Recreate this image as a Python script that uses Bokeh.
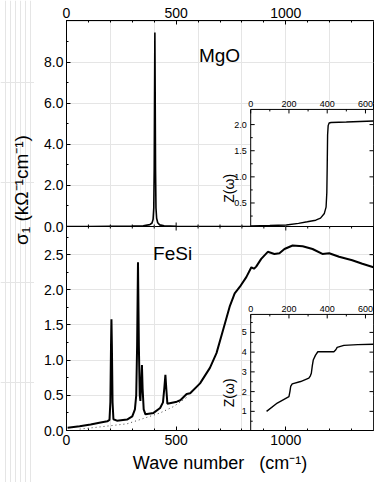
import math
from bokeh.plotting import figure
from bokeh.layouts import row, column
from bokeh.models import Range1d, LinearAxis, FixedTicker, NumeralTickFormatter
from bokeh.core.properties import value
from bokeh.embed import file_html
from bokeh.resources import INLINE

FONT = "Liberation Sans"

# ---------------- data ----------------
# MgO optical conductivity (kOhm^-1 cm^-1) vs wave number (cm^-1)
mgo_w = [0, 100, 200, 300, 350, 380, 390, 395, 398, 400, 401.5, 403, 404.5, 406, 408, 411, 416, 425, 445, 500, 700, 1000, 1400]
mgo_s = [0.0, 0.0, 0.01, 0.02, 0.04, 0.09, 0.17, 0.35, 0.9, 2.8, 6.3, 9.45, 6.3, 2.8, 0.9, 0.4, 0.18, 0.08, 0.03, 0.01, 0.0, 0.0, 0.0]

# MgO inset Z(omega)
mgo_z_w = [0, 100, 186, 250, 296, 340, 365, 385, 394, 398, 400, 402, 405, 410, 420, 500, 642]
mgo_z = [0.06, 0.07, 0.08, 0.11, 0.14, 0.17, 0.21, 0.30, 0.42, 0.70, 1.20, 1.80, 1.98, 2.03, 2.04, 2.05, 2.07]

# FeSi optical conductivity
fesi_w = [5, 60, 110, 150, 186, 196, 200, 203, 205, 207, 210, 214, 230, 276, 300, 312, 318, 322, 326, 330,
          334, 337, 341, 344, 347, 352, 360, 397, 427, 440, 446, 451, 455, 460, 503, 519, 548, 564, 609, 654,
          684, 714, 744, 767, 790, 820, 843, 855, 865, 888, 918, 948, 971, 994, 1031, 1077, 1122, 1167, 1198,
          1243, 1303, 1349, 1400]
fesi_s = [0.04, 0.06, 0.085, 0.11, 0.13, 0.15, 0.40, 1.20, 1.58, 1.20, 0.40, 0.16, 0.14, 0.155, 0.20, 0.30, 0.50, 1.20, 2.39, 1.20,
          0.50, 0.42, 0.70, 0.93, 0.60, 0.30, 0.23, 0.25, 0.32, 0.40, 0.60, 0.79, 0.60, 0.38, 0.41, 0.43, 0.52, 0.53, 0.67, 0.89,
          1.10, 1.43, 1.76, 1.95, 2.04, 2.18, 2.32, 2.30, 2.33, 2.44, 2.54, 2.51, 2.52, 2.58, 2.63, 2.62, 2.58, 2.51, 2.52,
          2.47, 2.42, 2.37, 2.32]

# FeSi background (dotted)
fesi_base_w = [60, 150, 276, 350, 427, 488, 548]
fesi_base_s = [0.02, 0.05, 0.095, 0.17, 0.25, 0.34, 0.47]

# FeSi inset Z(omega)
fesi_z_w = [83, 139, 200, 205, 209, 217, 261, 304, 312, 317, 322, 327, 339, 351, 435, 445, 452, 487, 560, 642]
fesi_z = [1.0, 1.42, 1.75, 2.0, 2.26, 2.39, 2.51, 2.68, 2.80, 2.93, 3.30, 3.60, 3.85, 4.02, 4.02, 4.12, 4.24, 4.34, 4.38, 4.40]

# ticks
main_x_ticks = [0, 500, 1000]
main_x_minor = [100, 200, 300, 400, 600, 700, 800, 900, 1100, 1200, 1300]
top_y_ticks = [0, 2, 4, 6, 8]
top_y_minor = [1, 3, 5, 7, 9]
bot_y_ticks = [0, 0.5, 1.0, 1.5, 2.0, 2.5]
bot_y_minor = [0.25, 0.75, 1.25, 1.75, 2.25, 2.75]
inset_x_ticks = [0, 200, 400, 600]
inset_x_labels = ["0", "200", "400", "600"]
inset_x_minor = [100, 300, 500]
mgo_in_y_ticks = [0.5, 1.0, 1.5, 2.0]
mgo_in_y_labels = ["0.5", "1.0", "1.5", "2.0"]
mgo_in_y_minor = [0.25, 0.75, 1.25, 1.75]
fesi_in_y_ticks = [1, 2, 3, 4, 5]
fesi_in_y_labels = ["1", "2", "3", "4", "5"]
fesi_in_y_minor = [0.5, 1.5, 2.5, 3.5, 4.5, 5.5]


def axis(ticks, minor, fmt=None):
    ax = LinearAxis(ticker=FixedTicker(ticks=ticks, minor_ticks=minor))
    if fmt is not None:
        ax.formatter = fmt
    ax.major_tick_in = 4
    ax.major_tick_out = 0
    ax.minor_tick_in = 2
    ax.minor_tick_out = 0
    ax.major_tick_line_color = "black"
    ax.minor_tick_line_color = "black"
    ax.axis_line_color = "black"
    ax.major_label_text_font = FONT
    ax.major_label_text_font_size = "14px"
    ax.major_label_text_color = "black"
    ax.major_label_standoff = 3
    return ax


def mirror_ticks(g, xs, ys, angle, length):
    g.ray(x=xs, y=ys, length=length, length_units="screen", angle=angle,
          line_color="black", line_width=1)


def inset(p, xs, ys, xt, yt, wz, zz, yticks, ylabels, yminor, zlab_y):
    sub = p.subplot(x_source=xs, y_source=ys, x_target=xt, y_target=yt)
    sub.quad(left=[xs.start], right=[xs.end], bottom=[ys.start], top=[ys.end],
             fill_color="white", line_color="black", line_width=1)
    sub.line(wz, zz, line_color="black", line_width=1.4)
    # top ticks
    mirror_ticks(sub, inset_x_ticks, [ys.end] * len(inset_x_ticks), -math.pi / 2, 4)
    mirror_ticks(sub, inset_x_minor, [ys.end] * len(inset_x_minor), -math.pi / 2, 2)
    sub.text(x=inset_x_ticks, y=[ys.end] * len(inset_x_ticks), text=inset_x_labels,
             text_align="center", text_baseline="bottom", y_offset=-2,
             text_font=value(FONT), text_font_size="9px", text_color="black")
    # left ticks
    mirror_ticks(sub, [xs.start] * len(yticks), yticks, 0, 4)
    mirror_ticks(sub, [xs.start] * len(yminor), yminor, 0, 2)
    # right ticks
    mirror_ticks(sub, [xs.end] * len(yticks), yticks, math.pi, 4)
    sub.text(x=[xs.start] * len(yticks), y=yticks, text=ylabels,
             text_align="right", text_baseline="middle", x_offset=-4,
             text_font=value(FONT), text_font_size="9px", text_color="black")
    sub.text(x=[xs.start], y=[zlab_y], text=["Z(\u03c9)"], angle=math.pi / 2,
             text_align="center", text_baseline="middle", x_offset=-22,
             text_font=value(FONT), text_font_size="14px", text_color="black")
    return sub


# ---------------- top panel (MgO) ----------------
top = figure(width=347, height=234, x_range=Range1d(0, 1400), y_range=Range1d(0, 10.03),
             x_axis_location=None, y_axis_location=None,
             output_backend="svg", toolbar_location=None,
             min_border_left=32, min_border_right=8, min_border_top=20, min_border_bottom=8)
top.outline_line_color = "black"
top.outline_line_alpha = 1
top.add_layout(axis(main_x_ticks, main_x_minor), "above")
top.add_layout(axis(top_y_ticks, top_y_minor, fmt=NumeralTickFormatter(format="0.0")), "left")
# inward ticks on the bottom edge
mirror_ticks(top, main_x_ticks, [0] * len(main_x_ticks), math.pi / 2, 4)
mirror_ticks(top, main_x_minor, [0] * len(main_x_minor), math.pi / 2, 2)

top.line(mgo_w, mgo_s, line_color="black", line_width=1.6)
top.text(x=[698], y=[8.33], text=["MgO"], text_align="center", text_baseline="middle",
         text_font=value(FONT), text_font_size="19px", text_color="black")
inset(top, Range1d(0, 642), Range1d(0.05, 2.29), Range1d(840, 1400), Range1d(0, 5.70),
      mgo_z_w, mgo_z, mgo_in_y_ticks, mgo_in_y_labels, mgo_in_y_minor, 0.78)

# ---------------- bottom panel (FeSi) ----------------
bot = figure(width=347, height=256, x_range=Range1d(0, 1400), y_range=Range1d(0, 2.90),
             x_axis_location=None, y_axis_location=None,
             output_backend="svg", toolbar_location=None,
             min_border_left=32, min_border_right=8, min_border_top=0, min_border_bottom=52)
bot.outline_line_color = "black"
bot.background_fill_alpha = 0
bot.border_fill_alpha = 0
bot.margin = (-8, 0, 0, 0)
xb = axis(main_x_ticks, main_x_minor)
xb.major_label_standoff = 4
xb.axis_label = "Wave number \u00a0 (cm\u207b\u00b9)"
xb.axis_label_text_font = FONT
xb.axis_label_text_font_size = "18px"
xb.axis_label_text_font_style = "normal"
xb.axis_label_text_color = "black"
xb.axis_label_standoff = 5
bot.add_layout(xb, "below")
bot.add_layout(axis(bot_y_ticks, bot_y_minor, fmt=NumeralTickFormatter(format="0.0")), "left")
mirror_ticks(bot, [1400] * len(bot_y_ticks), bot_y_ticks, math.pi, 4)
mirror_ticks(bot, main_x_ticks, [2.90] * len(main_x_ticks), -math.pi / 2, 4)
mirror_ticks(bot, main_x_minor, [2.90] * len(main_x_minor), -math.pi / 2, 2)

bot.line(fesi_base_w, fesi_base_s, line_color="#444444", line_width=1, line_dash="1 3")
bot.line(fesi_w, fesi_s, line_color="black", line_width=2)
bot.text(x=[484], y=[2.52], text=["FeSi"], text_align="center", text_baseline="middle",
         text_font=value(FONT), text_font_size="19px", text_color="black")
inset(bot, Range1d(0, 642), Range1d(0.03, 5.91), Range1d(840, 1400), Range1d(0, 1.65),
      fesi_z_w, fesi_z, fesi_in_y_ticks, fesi_in_y_labels, fesi_in_y_minor, 1.94)

# ---------------- shared y label ----------------
lab = figure(width=34, height=482, x_range=Range1d(0, 34), y_range=Range1d(0, 482),
             x_axis_location=None, y_axis_location=None,
             output_backend="svg", toolbar_location=None, min_border=0)
lab.outline_line_color = None
lab.text(x=[21], y=[292.5], text=["\u03c3\u2081 (k\u03a9\u207b\u00b9cm\u207b\u00b9)"], angle=math.pi / 2,
         text_align="center", text_baseline="middle",
         text_font=value(FONT), text_font_size="19px", text_color="black")

layout = row(lab, column(top, bot))
open("out.html", "w").write(file_html(layout, INLINE))
